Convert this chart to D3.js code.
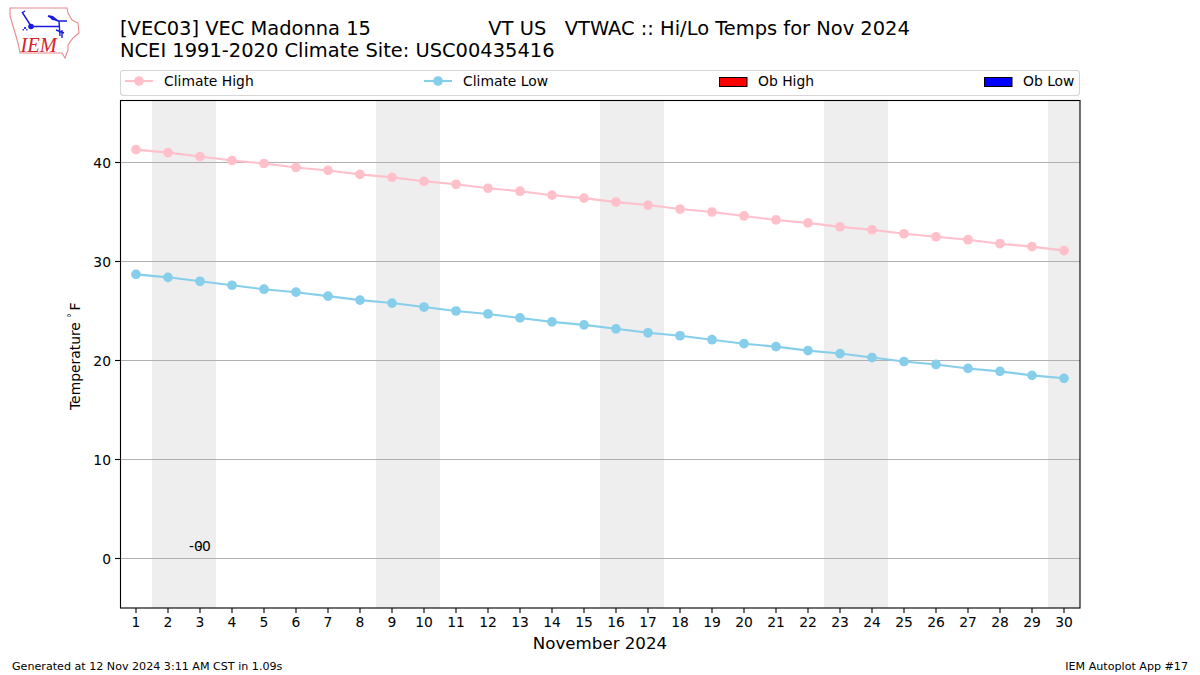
<!DOCTYPE html>
<html><head><meta charset="utf-8">
<script src="https://cdn.jsdelivr.net/npm/d3@7/dist/d3.min.js"></script>
<style>html,body{margin:0;background:#fff}svg{display:block}text{font-family:"DejaVu Sans";fill:#000;white-space:pre}</style>
</head><body><svg id="c" width="1200" height="675"></svg>
<script>
const days = d3.range(1, 31);
const climateHigh = [41.3,41.0,40.6,40.2,39.9,39.5,39.2,38.8,38.5,38.1,37.8,37.4,37.1,36.7,36.4,36.0,35.7,35.3,35.0,34.6,34.2,33.9,33.5,33.2,32.8,32.5,32.2,31.8,31.5,31.1];
const climateLow = [28.7,28.4,28.0,27.6,27.2,26.9,26.5,26.1,25.8,25.4,25.0,24.7,24.3,23.9,23.6,23.2,22.8,22.5,22.1,21.7,21.4,21.0,20.7,20.3,19.9,19.6,19.2,18.9,18.5,18.2];
const weekends = [[1.5,3.5],[8.5,10.5],[15.5,17.5],[22.5,24.5],[29.5,30.5]];
const yTicks = [0,10,20,30,40];
const titleLines = ["[VEC03] VEC Madonna 15                   VT US   VTWAC :: Hi/Lo Temps for Nov 2024","NCEI 1991-2020 Climate Site: USC00435416"];
const legendItems = ["Climate High","Climate Low","Ob High","Ob Low"];
const obLabels = [{d:3,v:0,t:"-0",dx:-11},{d:3,v:0,t:"-0",dx:-3}];

const svg = d3.select("#c");
const L=120.5,R=1080,T=100,B=608;
const x = d3.scaleLinear().domain([0.5,30.5]).range([120,1080]);
const y = d3.scaleLinear().domain([0,40]).range([558.5,162.5]);

svg.append("g").selectAll("rect").data(weekends).join("rect")
  .attr("x",d=>x(d[0])).attr("width",d=>x(d[1])-x(d[0])).attr("y",T).attr("height",B-T).attr("fill","#eeeeee");
svg.append("g").selectAll("line").data(yTicks).join("line")
  .attr("x1",L).attr("x2",R).attr("y1",d=>y(d)).attr("y2",d=>y(d)).attr("stroke","#b0b0b0").attr("stroke-width",1.11);

function series(vals,color){
  const g=svg.append("g");
  g.append("path").attr("d",d3.line().x((d,i)=>x(days[i])).y(d=>y(d))(vals)).attr("fill","none").attr("stroke",color).attr("stroke-width",2.08);
  g.selectAll("circle").data(vals).join("circle").attr("cx",(d,i)=>x(days[i])).attr("cy",d=>y(d)).attr("r",4.85).attr("fill",color);
}
series(climateHigh,"#ffc0cb");
series(climateLow,"#87ceeb");

svg.append("rect").attr("x",120.5).attr("y",100.5).attr("width",959.5).attr("height",507.5).attr("fill","none").attr("stroke","#000").attr("stroke-width",1.11);
svg.append("g").selectAll("line").data(days).join("line")
  .attr("x1",d=>x(d)).attr("x2",d=>x(d)).attr("y1",608).attr("y2",613).attr("stroke","#000").attr("stroke-width",1.11);
svg.append("g").selectAll("text").data(days).join("text")
  .attr("x",d=>x(d)).attr("y",627).attr("text-anchor","middle").attr("font-size",13.89).text(d=>d);
svg.append("g").selectAll("line").data(yTicks).join("line")
  .attr("x1",115).attr("x2",120).attr("y1",d=>y(d)).attr("y2",d=>y(d)).attr("stroke","#000").attr("stroke-width",1.11);
svg.append("g").selectAll("text").data(yTicks).join("text")
  .attr("x",111).attr("y",d=>y(d)+5).attr("text-anchor","end").attr("font-size",13.89).text(d=>d);
const yl=svg.append("text").attr("transform","translate(80,410) rotate(-90)").attr("font-size",13.89);
yl.append("tspan").text("Temperature");
yl.append("tspan").attr("font-size",10).attr("dx",4).attr("dy",-5).text("\u00b0");
yl.append("tspan").attr("dx",2.5).attr("dy",5).text("F");
svg.append("text").attr("x",600).attr("y",649).attr("text-anchor","middle").attr("font-size",16.67).text("November 2024");

svg.append("g").selectAll("text").data(obLabels).join("text")
  .attr("x",d=>x(d.d)+d.dx).attr("y",d=>y(d.v)-7.5).attr("font-size",13.89).text(d=>d.t);

svg.append("g").selectAll("text").data(titleLines).join("text")
  .attr("x",120).attr("y",(d,i)=>35+i*22).attr("font-size",19.44).text(d=>d);

svg.append("rect").attr("x",120.5).attr("y",70.5).attr("width",959).attr("height",25).attr("rx",3).attr("fill","#fff").attr("stroke","#d6d6d6").attr("stroke-width",1.11);
const lg=svg.append("g");
function lineKey(x0,c){lg.append("line").attr("x1",x0).attr("x2",x0+28).attr("y1",81).attr("y2",81).attr("stroke",c).attr("stroke-width",2.08);
  lg.append("circle").attr("cx",x0+14).attr("cy",81).attr("r",4.85).attr("fill",c);}
function patchKey(x0,c){lg.append("rect").attr("x",x0+.5).attr("y",77.5).attr("width",27.5).attr("height",9).attr("fill",c).attr("stroke","#000").attr("stroke-width",1);}
lineKey(125,"#ffc0cb");lineKey(424,"#87ceeb");patchKey(719,"#ff0000");patchKey(984,"#0000ff");
[164,463,758,1023].forEach((px,i)=>lg.append("text").attr("x",px).attr("y",86).attr("font-size",13.89).text(legendItems[i]));

svg.append("text").attr("x",12).attr("y",670).attr("font-size",11.11).text("Generated at 12 Nov 2024 3:11 AM CST in 1.09s");
svg.append("text").attr("x",1188).attr("y",670).attr("text-anchor","end").attr("font-size",11.11).text("IEM Autoplot App #17");

const lo=svg.append("g");
lo.append("path").attr("d","M10,8 L67,8 L68,13 L72,20 L78,23 L79,33 L73,38 L68,45 L68,50 L65,58 L62,53 L20,53 L18,43 L13,26 L10,16 Z").attr("fill","none").attr("stroke","#e58a90").attr("stroke-width",1.1);
lo.append("path").attr("d","M22,12 L31,26 M31,26.5 L60,26.5 M48,16 L58,21 L67,21 M59,21 L60,36 M56,30 L64,33 M62,30 L62,38 M22,13 L25,11").attr("fill","none").attr("stroke","#1a1ae0").attr("stroke-width",1.4);
lo.append("circle").attr("cx",31).attr("cy",26.5).attr("r",2.8).attr("fill","#1a1ae0");
lo.append("path").attr("d","M48,15 L53,16 L59,21 L52,20 Z").attr("fill","#1a1ae0");
lo.append("path").attr("d","M24,27 L26,27 L26,29 L24,29 Z M22.5,29 L24,29 L24,30.5 L22.5,30.5 Z M26,29 L27.5,29 L27.5,30.5 L26,30.5 Z").attr("fill","#3a3ae0");
lo.append("text").attr("x",20.5).attr("y",52).style("font-family","'Liberation Serif'").attr("font-style","italic").attr("font-size",20.5).style("fill","#d8232a").text("IEM");
</script></body></html>
